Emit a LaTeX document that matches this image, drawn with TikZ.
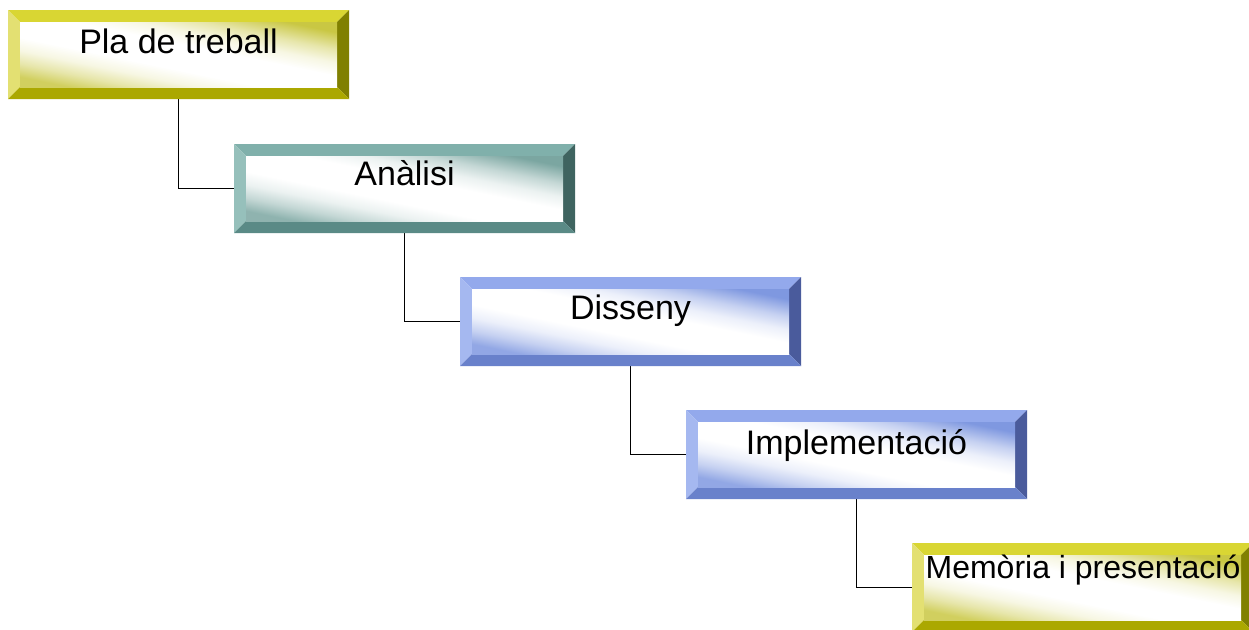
\documentclass[tikz,border=0pt]{standalone}
\usepackage{fontspec}
\setmainfont{Liberation Sans}
\usetikzlibrary{calc}
\definecolor{yT}{HTML}{D9D633}
\definecolor{yL}{HTML}{E3E072}
\definecolor{yR}{HTML}{808000}
\definecolor{yB}{HTML}{ABA800}
\definecolor{yF}{HTML}{C9C743}
\definecolor{gT}{HTML}{80B0AB}
\definecolor{gL}{HTML}{96C0BB}
\definecolor{gR}{HTML}{3F6460}
\definecolor{gB}{HTML}{5A8A86}
\definecolor{gF}{HTML}{7BA6A1}
\definecolor{bT}{HTML}{93A9EC}
\definecolor{bL}{HTML}{A5B8F0}
\definecolor{bR}{HTML}{4A5B9C}
\definecolor{bB}{HTML}{6981CB}
\definecolor{bF}{HTML}{7F98E0}
\newcommand\declface[1]{%
  \colorlet{#1M}{#1F!45!white}%
  \colorlet{#1P}{#1F!15!white}%
  \colorlet{#1N}{#1F!85!white}%
  \pgfdeclareverticalshading{#1face}{100bp}{color(0bp)=(#1N); color(25bp)=(#1N); color(31bp)=(#1M); color(37bp)=(#1P); color(43bp)=(white); color(55bp)=(white); color(61bp)=(#1P); color(67bp)=(#1M); color(75bp)=(#1F); color(100bp)=(#1F)}%
}
\declface{y}
\declface{g}
\declface{b}
\tikzset{
  stagebox/.style={minimum width=341pt, minimum height=89pt, inner sep=0pt, outer sep=0pt},
  stagetext/.style={anchor=base, inner sep=0pt, font=\fontsize{34}{40}\selectfont},
  link/.style={line width=1.8pt, black},
}
\newcommand\bevelbox[2]{%
  \fill[#2T] (#1.north west) -- (#1.north east) -- ($(#1.north east)+(-12,12)$) -- ($(#1.north west)+(12,12)$) -- cycle;
  \fill[#2L] (#1.north west) -- (#1.south west) -- ($(#1.south west)+(12,-12)$) -- ($(#1.north west)+(12,12)$) -- cycle;
  \fill[#2R] (#1.north east) -- (#1.south east) -- ($(#1.south east)+(-12,-12)$) -- ($(#1.north east)+(-12,12)$) -- cycle;
  \fill[#2B] (#1.south west) -- (#1.south east) -- ($(#1.south east)+(-12,-12)$) -- ($(#1.south west)+(12,-12)$) -- cycle;
  \shade[shading=#2face, shading angle=-11.6] ($(#1.north west)+(12,12)$) rectangle ($(#1.south east)+(-12,-12)$);
}
\begin{document}
\begin{tikzpicture}[x=1pt, y=-1pt]
\useasboundingbox (0,0) rectangle (1249,629);
\node[stagebox] (b1) at (178.5,54.5) {};
\node[stagebox] (b2) at (404.5,188.5) {};
\node[stagebox] (b3) at (630.5,321.5) {};
\node[stagebox] (b4) at (856.5,454.5) {};
\node[stagebox] (b5) at (1082.5,587.5) {};
\draw[link] (b1.south) |- (b2.west);
\draw[link] (b2.south) |- (b3.west);
\draw[link] (b3.south) |- (b4.west);
\draw[link] (b4.south) |- (b5.west);
\bevelbox{b1}{y}
\bevelbox{b2}{g}
\bevelbox{b3}{b}
\bevelbox{b4}{b}
\bevelbox{b5}{y}
\node[stagetext] (t1) at ($(b1.north)+(0,43)$) {Pla de treball};
\node[stagetext] (t2) at ($(b2.north)+(0,41)$) {Anàlisi};
\node[stagetext] (t3) at ($(b3.north)+(0,42)$) {Disseny};
\node[stagetext] (t4) at ($(b4.north)+(0,44)$) {Implementació};
\node[stagetext, font=\fontsize{32}{38}\selectfont] (t5) at (1083,578) {Memòria i presentació};
\end{tikzpicture}
\end{document}
